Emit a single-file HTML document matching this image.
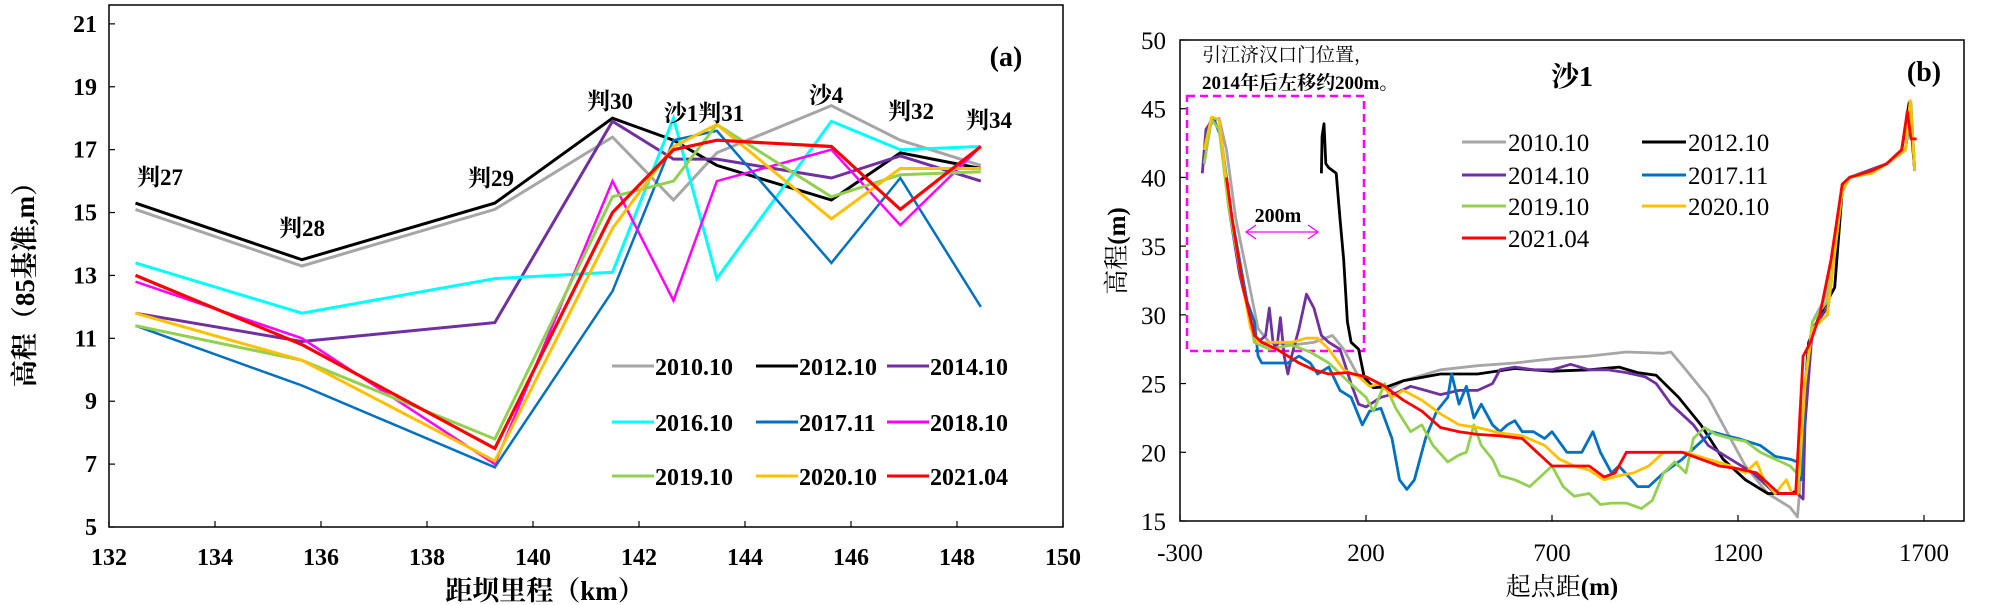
<!DOCTYPE html>
<html><head><meta charset="utf-8">
<style>
html,body{margin:0;padding:0;background:#fff;}
svg{display:block;font-family:"Liberation Serif","Noto Serif CJK SC","Noto Sans CJK SC",serif;}
text{font-family:"Liberation Serif","Noto Serif CJK SC","Noto Sans CJK SC",serif;}
</style></head>
<body>
<svg id="fig" width="2000" height="605" viewBox="0 0 2000 605" xmlns="http://www.w3.org/2000/svg" font-family="Liberation Serif, Noto Serif CJK SC, serif">
<g id="chartA"></g>
<g id="chartB"></g>
</svg>
<script>
// ---------- Chart (a) data ----------
const aSections = ["判27","判28","判29","判30","沙1","判31","沙4","判32","判34"];
const aKm = [132.5,135.64,139.28,141.5,142.65,143.47,145.63,146.93,148.45];
const aSeriesNames = ["2010.10","2012.10","2014.10","2016.10","2017.11","2018.10","2019.10","2020.10","2021.04"];
const aColors = ["#a6a6a6","#000000","#7030a0","#00ffff","#0070c0","#ff00ff","#92d050","#ffc000","#ff0000"];
const a2010 = [15.1,13.3,15.1,17.4,15.4,16.9,18.4,17.3,16.5];
const a2012 = [15.3,13.5,15.3,18.0,17.3,16.5,15.4,16.9,16.4];
const a2014 = [11.8,10.9,11.5,17.9,16.7,16.7,16.1,16.8,16.0];
const a2016 = [13.4,11.8,12.9,13.1,18.0,12.9,17.9,17.0,17.1];
const a2017 = [11.4,9.5,6.9,12.5,17.3,17.6,13.4,16.1,12.0];
const a2018 = [12.8,11.0,7.0,16.0,12.2,16.0,17.0,14.6,17.1];
const a2019 = [11.4,10.3,7.8,15.5,16.0,17.8,15.5,16.2,16.3];
const a2020 = [11.8,10.3,7.1,14.5,17.1,17.8,14.8,16.4,16.4];
const a2021 = [13.0,10.8,7.5,15.0,17.0,17.3,17.1,15.1,17.1];
const aXTicks = [132,134,136,138,140,142,144,146,148,150];
const aYTicks = [5,7,9,11,13,15,17,19,21];

// ---------- Chart (b) data ----------
const bNames = ["2010.10","2012.10","2014.10","2017.11","2019.10","2020.10","2021.04"];
const bColors = ["#a6a6a6","#000000","#7030a0","#0070c0","#92d050","#ffc000","#ff0000"];
const b2010 = [[-235,41],[-220,44],[-195,44.3],[-175,42],[-150,37],[-120,33],[-90,29],[-60,28],[0,27.8],[60,28],[110,28.5],[140,27.5],[180,25.5],[210,25],[260,24.5],[300,25.2],[400,26],[500,26.3],[600,26.5],[700,26.8],[800,27],[900,27.3],[1000,27.2],[1020,27.3],[1060,26],[1120,24],[1170,21.5],[1220,19],[1280,17],[1340,16],[1360,15.3],[1365,17],[1380,25],[1400,29.5],[1430,31],[1460,34],[1480,39.5],[1500,40],[1560,40.5],[1600,41],[1640,42],[1660,45.5],[1675,40.5]];
const b2012 = [[80,40.3],[82,43],[87,43.9],[92,41],[100,40.7],[120,40.3],[130,37],[140,34],[150,29.5],[160,28],[180,27.5],[195,25.5],[220,24.7],[260,24.8],[300,25.2],[400,25.7],[500,25.7],[600,26.1],[700,25.9],[800,26],[880,26.2],[930,25.8],[980,25.6],[1040,24],[1100,22],[1160,19.5],[1220,18],[1280,17],[1340,17],[1360,17.2],[1375,23],[1390,28],[1420,30],[1460,32],[1480,39],[1500,40],[1550,40.3],[1600,41],[1640,42],[1660,45.4],[1675,40.5]];
const b2014 = [[-240,40.3],[-230,43.5],[-210,44.3],[-190,43],[-170,38],[-140,33],[-110,29.5],[-90,28],[-70,28.5],[-60,30.5],[-50,28],[-40,27.5],[-30,29.8],[-20,27],[-10,25.7],[0,27],[20,29],[40,31.5],[60,30.5],[80,28.5],[100,28],[130,27.5],[160,25],[180,23.5],[200,23.3],[240,24],[280,24.3],[320,24.8],[360,24.5],[400,24.2],[450,24.5],[500,24.5],[540,25],[560,26],[600,26.2],[650,26],[700,26],[750,26.4],[800,26],[850,26],[900,25.8],[950,25.5],[980,25],[1020,23.5],[1080,22],[1120,20.5],[1180,19.5],[1240,18.5],[1300,17],[1340,17],[1360,17],[1375,16.6],[1380,22],[1400,29],[1440,30.5],[1480,39],[1500,40],[1550,40.5],[1600,41],[1650,42],[1665,45],[1675,40.5]];
const b2017 = [[-230,43],[-210,44.3],[-190,43],[-160,37],[-120,31],[-100,29.5],[-90,27],[-80,26.5],[-40,26.5],[-10,26.5],[20,27],[50,26.5],[70,25.7],[100,26.2],[130,24.5],[160,24],[190,22],[210,23],[240,23.2],[270,21],[290,18],[310,17.3],[330,18],[360,21],[390,23],[420,24],[430,25.7],[450,23.5],[470,24.8],[490,22.5],[510,23.5],[540,22],[560,21.5],[580,22],[600,22.3],[620,21.5],[650,21.5],[680,21],[700,21.5],[740,20],[780,20],[810,21.5],[830,20],[860,18.5],[880,19],[930,17.5],[960,17.5],[1000,18.5],[1050,19.5],[1090,20.5],[1130,21.5],[1170,21.2],[1200,21],[1260,20.5],[1300,19.7],[1340,19.5],[1360,19.3],[1370,18],[1380,25],[1400,29],[1440,30],[1480,39],[1500,40],[1560,40.5],[1600,41],[1650,42],[1665,45],[1675,40.5]];
const b2019 = [[-235,41],[-215,44.2],[-195,43.5],[-170,38],[-130,32],[-100,28],[-60,27.5],[0,27.8],[50,27.3],[100,26.5],[150,25.2],[200,24],[220,23],[250,25],[280,23.2],[320,21.5],[350,22],[380,20.5],[420,19.3],[450,19.8],[470,20],[490,22],[510,20.5],[540,19.5],[560,18.3],[600,18],[640,17.5],[680,18.5],[700,19],[730,17.5],[760,16.8],[800,17],[830,16.2],[860,16.3],[900,16.3],[940,15.9],[970,16.5],[1000,18.5],[1030,19.3],[1060,18.5],[1080,21],[1110,21.8],[1140,21.3],[1180,21],[1220,20.8],[1260,20],[1300,19.5],[1340,19],[1365,18.3],[1380,25],[1400,29.5],[1440,31],[1480,39.5],[1500,40],[1560,40.5],[1600,41],[1650,42],[1665,45.5],[1675,40.5]];
const b2020 = [[-235,42],[-215,44.4],[-195,44.2],[-170,38.5],[-130,32],[-110,29],[-90,28],[-50,28],[0,28],[40,28.3],[70,28.3],[100,27.5],[140,26],[180,25.5],[210,24.8],[240,25],[270,24],[300,24.5],[350,23.8],[400,22.8],[450,22],[500,21.8],[560,21.4],[620,21.2],[680,20.5],[720,19.5],[760,19],[800,18.7],[840,18],[880,18.3],[920,18.5],[960,19],[1000,20],[1060,20],[1120,19.5],[1180,19],[1220,18.5],[1250,19.3],[1270,18],[1300,17],[1330,18],[1345,17],[1360,17],[1380,25],[1400,29],[1440,30],[1480,39],[1500,40],[1560,40.3],[1600,41],[1650,42],[1663,45.6],[1675,40.5]];
const b2021 = [[-175,40],[-160,37],[-130,32],[-100,28.5],[-80,28],[-40,27.5],[-10,27],[20,26.5],[60,26],[100,25.7],[150,25.8],[200,25.5],[250,24.8],[300,23.8],[350,23],[400,21.8],[450,21.5],[500,21.3],[560,21.2],[620,21],[660,20],[700,19],[760,19],[800,19],[840,18.2],[870,18.5],[900,20],[950,20],[1000,20],[1050,20],[1100,19.5],[1150,19],[1200,18.8],[1250,18.5],[1290,17.5],[1310,17],[1340,17],[1355,17],[1365,22],[1375,27],[1395,28],[1420,30],[1450,34],[1480,39.5],[1500,40],[1560,40.5],[1600,41],[1640,42],[1655,44.8],[1665,42.8],[1680,42.8]];
const bXTicks = [-300,200,700,1200,1700];
const bYTicks = [15,20,25,30,35,40,45,50];

const NS = "http://www.w3.org/2000/svg";
function mk(parent, tag, attrs, txt){
  const e = document.createElementNS(NS, tag);
  for (const k in attrs) e.setAttribute(k, attrs[k]);
  if (txt !== undefined) e.textContent = txt;
  parent.appendChild(e);
  return e;
}

// ---------- Chart (a) ----------
(function(){
  const g = document.getElementById('chartA');
  const L=109, R=1063, T=5, B=527;
  const xS = v => L + (v-132)/(150-132)*(R-L);
  const yS = v => B - (v-5)/(21.6-5)*(B-T);
  const box = mk(g,'rect',{x:L,y:T,width:R-L,height:B-T,fill:'none',stroke:'#000','stroke-width':1.5});
  
  
  aYTicks.forEach(t=>{
    const y=yS(t);
    const tk = mk(g,'line',{x1:L,x2:L+6,y1:y,y2:y,stroke:'#000','stroke-width':1.2});
    
    
    const tl = mk(g,'text',{x:L-12,y:y+8,'text-anchor':'end','font-size':24,'font-weight':'bold'},t);
    
    
  });
  aXTicks.forEach(t=>{
    const x=xS(t);
    const tk = mk(g,'line',{x1:x,x2:x,y1:B,y2:B-6,stroke:'#000','stroke-width':1.2});
    
    
    const tl = mk(g,'text',{x:x,y:565,'text-anchor':'middle','font-size':24,'font-weight':'bold'},t);
    
    
  });
  const xt = mk(g,'text',{x:545,y:600,'text-anchor':'middle','font-size':27,'font-weight':'bold'},'距坝里程（km）');
  
  
  const yt = mk(g,'text',{x:0,y:0,'text-anchor':'middle','font-size':27,'font-weight':'bold',transform:'translate(34,278) rotate(-90)'},'高程（85基准,m）');
  
  
  const all=[a2010,a2012,a2014,a2016,a2017,a2018,a2019,a2020,a2021];
  const widths=[3,3,3,3,2.5,2.5,3,3,3.2];
  all.forEach((s,i)=>{
    const pts = s.map((v,j)=>xS(aKm[j]).toFixed(1)+','+yS(v).toFixed(1)).join(' ');
    const pl = mk(g,'polyline',{points:pts,fill:'none',stroke:aColors[i],'stroke-width':widths[i],'stroke-linejoin':'miter'});
    
    
  });
  const labPos=[[160,185],[302,236],[491,186],[610,109],[704,121],[826,103],[911,119],[989,128]];
  const labTxt=["判27","判28","判29","判30","沙1判31","沙4","判32","判34"];
  labTxt.forEach((t,i)=>{
    const tl = mk(g,'text',{x:labPos[i][0],y:labPos[i][1],'text-anchor':'middle','font-size':23,'font-weight':'bold'},t);
    
    
  });
  const pa = mk(g,'text',{x:1006,y:66,'text-anchor':'middle','font-size':28,'font-weight':'bold'},'(a)');
  
  
  const colX=[612,756,887], rowY=[366,422,476];
  aSeriesNames.forEach((n,i)=>{
    const cx=colX[i%3], ry=rowY[Math.floor(i/3)];
    const lg = mk(g,'g',{});
    
    
    mk(lg,'line',{x1:cx,x2:cx+42,y1:ry,y2:ry,stroke:aColors[i],'stroke-width':3});
    mk(lg,'text',{x:cx+43,y:ry+9,'font-size':24,'font-weight':'bold'},n);
  });
})();

// ---------- Chart (b) ----------
(function(){
  const g = document.getElementById('chartB');
  const L=1180, R=1964, T=40, B=521;
  const xS = v => L + (v+300)/2000*(1924-L);
  const yS = v => B - (v-15)/35*(B-T);
  const box = mk(g,'rect',{x:L,y:T,width:R-L,height:B-T,fill:'none',stroke:'#000','stroke-width':1.5});
  
  
  bYTicks.forEach(t=>{
    const y=yS(t);
    const tk = mk(g,'line',{x1:L,x2:L+6,y1:y,y2:y,stroke:'#000','stroke-width':1.2});
    
    
    const tl = mk(g,'text',{x:L-14,y:y+9,'text-anchor':'end','font-size':25},t);
    
    
  });
  bXTicks.forEach(t=>{
    const x=xS(t);
    const tk = mk(g,'line',{x1:x,x2:x,y1:B,y2:B-6,stroke:'#000','stroke-width':1.2});
    
    
    const tl = mk(g,'text',{x:x,y:561,'text-anchor':'middle','font-size':25},t);
    
    
  });
  const xt = mk(g,'text',{x:1562,y:595,'text-anchor':'middle','font-size':25},'起点距');
  
  
  mk(xt,'tspan',{'font-weight':'bold'},'(m)');
  const yt = mk(g,'text',{x:0,y:0,'text-anchor':'middle','font-size':25,transform:'translate(1125,251) rotate(-90)'},'高程');
  
  
  mk(yt,'tspan',{'font-weight':'bold'},'(m)');
  const db = mk(g,'rect',{x:1187,y:96,width:177,height:255,fill:'none',stroke:'#ff00ff','stroke-width':2.5,'stroke-dasharray':'8,5'});
  
  
  const all=[b2010,b2012,b2014,b2017,b2019,b2020,b2021];
  all.forEach((s,i)=>{
    const pts = s.map(p=>xS(p[0]).toFixed(1)+','+yS(p[1]).toFixed(1)).join(' ');
    const pl = mk(g,'polyline',{points:pts,fill:'none',stroke:bColors[i],'stroke-width':2.8,'stroke-linejoin':'round'});
    
    
  });
  const ar = mk(g,'g',{stroke:'#ff00ff','stroke-width':1.3,fill:'none'});
  
  
  mk(ar,'line',{x1:1246,x2:1318,y1:232,y2:232});
  mk(ar,'polyline',{points:'1256,225 1246,232 1256,239'});
  mk(ar,'polyline',{points:'1308,225 1318,232 1308,239'});
  const t200 = mk(g,'text',{x:1278,y:222,'text-anchor':'middle','font-size':20,'font-weight':'bold'},'200m');
  
  
  const n1 = mk(g,'text',{x:1202,y:61,'font-size':19},'引江济汉口门位置，');
  
  
  const n2 = mk(g,'text',{x:1202,y:89,'font-size':19,'font-weight':'bold'},'2014年后左移约200m。');
  
  
  const st = mk(g,'text',{x:1572,y:86,'text-anchor':'middle','font-size':28,'font-weight':'bold'},'沙1');
  
  
  const pb = mk(g,'text',{x:1924,y:81,'text-anchor':'middle','font-size':28,'font-weight':'bold'},'(b)');
  
  
  const colX=[1462,1642], rowY=[142,175,206,238];
  bNames.forEach((n,i)=>{
    const cx=colX[i%2], ry=rowY[Math.floor(i/2)];
    const lg = mk(g,'g',{});
    
    
    mk(lg,'line',{x1:cx,x2:cx+44,y1:ry,y2:ry,stroke:bColors[i],'stroke-width':3});
    mk(lg,'text',{x:cx+46,y:ry+9,'font-size':25},n);
  });
})();
</script>
</body></html>
